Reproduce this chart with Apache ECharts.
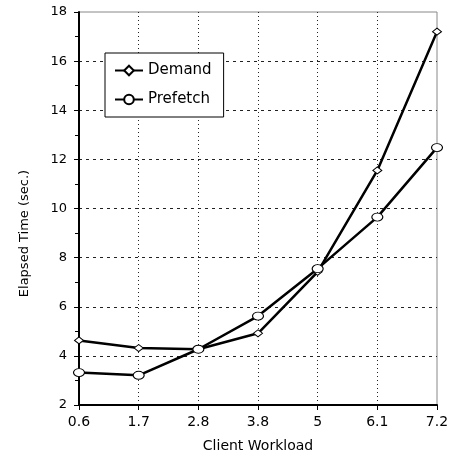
<!DOCTYPE html>
<html style="height: 100%">
    <head>
        <meta charset="utf-8">
    </head>
    <body style="height: 100%; margin: 0; background: #fff">
        <div id="container" style="width: 453px; height: 460px"></div>

        <script type="text/javascript" src="https://cdn.jsdelivr.net/npm/echarts@6/dist/echarts.min.js"></script>

        <script type="text/javascript">
var workload = ['0.6', '1.7', '2.8', '3.8', '5', '6.1', '7.2'];
var demand = [4.63, 4.32, 4.27, 4.92, 7.42, 11.55, 17.2];
var prefetch = [3.32, 3.21, 4.27, 5.62, 7.55, 9.65, 12.48];

var ellipse = 'path://M0,5A5,5,0,1,1,10,5A5,5,0,1,1,0,5z';
var font = 'DejaVu Sans';

var dom = document.getElementById('container');
var myChart = echarts.init(dom);

var option = {
  animation: false,
  backgroundColor: '#fff',
  grid: {
    left: 79,
    right: 16,
    top: 12,
    bottom: 55,
    show: true,
    borderColor: '#888',
    borderWidth: 1
  },
  legend: {
    orient: 'vertical',
    left: 105,
    top: 53,
    width: 120,
    padding: [10, 12, 10, 9],
    itemGap: 14,
    itemWidth: 28,
    itemHeight: 12,
    borderColor: '#000',
    borderWidth: 1,
    backgroundColor: '#fff',
    textStyle: { fontFamily: font, fontSize: 15, color: '#000' },
    data: ['Demand', 'Prefetch']
  },
  xAxis: {
    type: 'category',
    data: workload,
    boundaryGap: false,
    name: 'Client Workload',
    nameLocation: 'middle',
    nameGap: 34,
    nameTextStyle: { fontFamily: font, fontSize: 14, color: '#000' },
    axisLine: { lineStyle: { color: '#000', width: 2 } },
    axisTick: { show: true, length: 5, lineStyle: { color: '#000', width: 1 } },
    axisLabel: { fontFamily: font, fontSize: 14, color: '#000', margin: 10 },
    splitLine: { show: true, showMinLine: false, showMaxLine: false, lineStyle: { color: '#222', type: [1, 3], width: 1 } }
  },
  yAxis: {
    type: 'value',
    min: 2,
    max: 18,
    interval: 2,
    name: 'Elapsed Time (sec.)',
    nameLocation: 'middle',
    nameGap: 48,
    nameTextStyle: { fontFamily: font, fontSize: 13, color: '#000', padding: [0, 50, 0, 0] },
    axisLine: { show: true, lineStyle: { color: '#000', width: 2 } },
    axisTick: { show: true, length: 5, lineStyle: { color: '#000', width: 1 } },
    minorTick: { show: true, splitNumber: 2, length: 4, lineStyle: { color: '#000', width: 1 } },
    axisLabel: { fontFamily: font, fontSize: 13, color: '#000', margin: 12 },
    splitLine: { show: true, showMinLine: false, showMaxLine: false, lineStyle: { color: '#222', type: [3, 4], width: 1 } }
  },
  series: [
    {
      name: 'Demand',
      type: 'line',
      data: demand,
      symbol: 'diamond',
      symbolSize: [9, 7],
      showAllSymbol: true,
      lineStyle: { color: '#000', width: 2.5 },
      itemStyle: { color: '#fff', borderColor: '#000', borderWidth: 1 },
      z: 3
    },
    {
      name: 'Prefetch',
      type: 'line',
      data: prefetch,
      symbol: ellipse,
      symbolSize: [11, 8],
      showAllSymbol: true,
      lineStyle: { color: '#000', width: 2.5 },
      itemStyle: { color: '#fff', borderColor: '#000', borderWidth: 1 },
      z: 4
    }
  ]
};

myChart.setOption(option);
        </script>
    </body>
</html>
